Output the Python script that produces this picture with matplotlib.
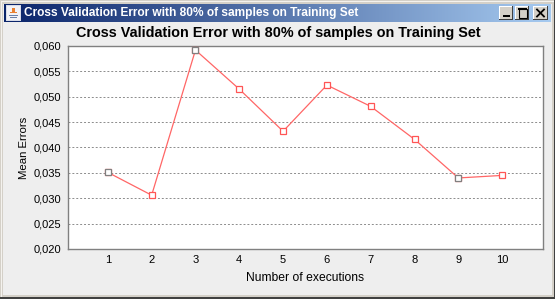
import numpy as np
import matplotlib
matplotlib.use('Agg')
import matplotlib.pyplot as plt
from matplotlib.patches import Rectangle
from matplotlib.colors import LinearSegmentedColormap

plt.rcParams['font.family'] = ['Liberation Sans', 'DejaVu Sans']

# values
executions = [1, 2, 3, 4, 5, 6, 7, 8, 9, 10]
mean_errors = [0.0351, 0.0306, 0.0592, 0.0515, 0.0432, 0.0523, 0.0481, 0.0416, 0.0340, 0.0345]
y_ticks = [0.020, 0.025, 0.030, 0.035, 0.040, 0.045, 0.050, 0.055, 0.060]
y_labels = ['0,020', '0,025', '0,030', '0,035', '0,040', '0,045', '0,050', '0,055', '0,060']
title = 'Cross Validation Error with 80% of samples on Training Set'

W, H = 555, 299
fig = plt.figure(figsize=(W / 100, H / 100), dpi=100, facecolor='#eeeeee')


def px_axes(x0, y0, x1, y1):
    # axes placed with pixel coords, y measured from the top
    return fig.add_axes([x0 / W, 1 - y1 / H, (x1 - x0) / W, (y1 - y0) / H])


def px_rect(x0, y0, x1, y1, color):
    fig.add_artist(Rectangle((x0 / W, 1 - y1 / H), (x1 - x0) / W, (y1 - y0) / H,
                             transform=fig.transFigure, facecolor=color, edgecolor='none'))


# window frame
px_rect(0, 0, W, 4, '#d4d0c8')
px_rect(0, 0, 3, H, '#d4d0c8')
px_rect(W - 3, 0, W, H, '#d4d0c8')
px_rect(0, H - 4, W, H, '#d4d0c8')
px_rect(0, H - 2, W, H, '#404040')
px_rect(W - 1, 0, W, H, '#404040')
px_rect(1, 1, W - 1, 2, '#f4f2ee')
px_rect(1, 1, 2, H - 2, '#f4f2ee')

# title bar
bar = px_axes(4, 4, W - 4, 22)
cmap = LinearSegmentedColormap.from_list('bar', ['#0a246a', '#a6caf0'])
bar.imshow(np.linspace(0, 1, 256).reshape(1, -1), aspect='auto', cmap=cmap, extent=[0, 1, 0, 1])
bar.axis('off')
fig.text(24 / W, 1 - 13 / H, title, color='white', fontsize=8.6, fontweight='bold', va='center', ha='left')

# java icon
px_rect(6, 5, 21, 21, '#d8dce8')
px_rect(7, 6, 20, 20, '#f2f2f6')
px_rect(12, 8, 15, 12, '#e88030')
px_rect(10, 12, 17, 13, '#e88030')
px_rect(9, 15, 18, 16, '#6a80a8')
px_rect(10, 17, 17, 18, '#6a80a8')

# window buttons
for x0, x1 in [(499, 513), (515, 529), (533, 548)]:
    px_rect(x0, 6, x1, 20, '#404040')
    px_rect(x0, 6, x1 - 1, 19, '#ffffff')
    px_rect(x0 + 1, 7, x1 - 1, 19, '#d4d0c8')
px_rect(503, 15, 510, 17, 'black')
px_rect(518, 8, 527, 10, 'black')
fig.add_artist(Rectangle((518.5 / W, 1 - 17.5 / H), 8 / W, 9 / H, transform=fig.transFigure,
                         facecolor='none', edgecolor='black', lw=0.8))
fig.add_artist(plt.Line2D([537 / W, 544 / W], [1 - 9.5 / H, 1 - 16.5 / H], color='black', lw=1.3))
fig.add_artist(plt.Line2D([537 / W, 544 / W], [1 - 16.5 / H, 1 - 9.5 / H], color='black', lw=1.3))

# chart
ax = px_axes(68, 46, 543, 249)
ax.plot(executions, mean_errors, color='#ff6666', lw=0.9, marker='s', ms=5, mfc='white', mec='#ff5555', mew=0.9, zorder=3)
ax.plot([executions[0], executions[2], executions[8]], [mean_errors[0], mean_errors[2], mean_errors[8]],
        ls='none', marker='s', ms=5, mfc='white', mec='#808080', mew=0.9, zorder=4)
ax.set_xlim(1 - 40 / 44, 10 + 41 / 44)
ax.set_ylim(0.020, 0.060)
ax.set_xticks(executions)
ax.set_yticks(y_ticks)
ax.set_yticklabels(y_labels)
ax.tick_params(length=0, labelsize=8, pad=5)
ax.tick_params(axis='x', pad=4)
ax.grid(axis='y', color='#8c8c8c', ls=(0, (2, 2)), lw=0.7)
ax.set_axisbelow(True)
for s in ax.spines.values():
    s.set_color('#808080')
    s.set_linewidth(1)

ax.set_xlabel('Number of executions', fontsize=8.7, labelpad=5.5)
ax.set_ylabel('Mean Errors', fontsize=8.2, labelpad=3)
fig.text(278 / W, 1 - 33 / H, title, color='black', fontsize=10.4, fontweight='bold', va='center', ha='center')

fig.savefig('out.png', dpi=100, facecolor=fig.get_facecolor())
